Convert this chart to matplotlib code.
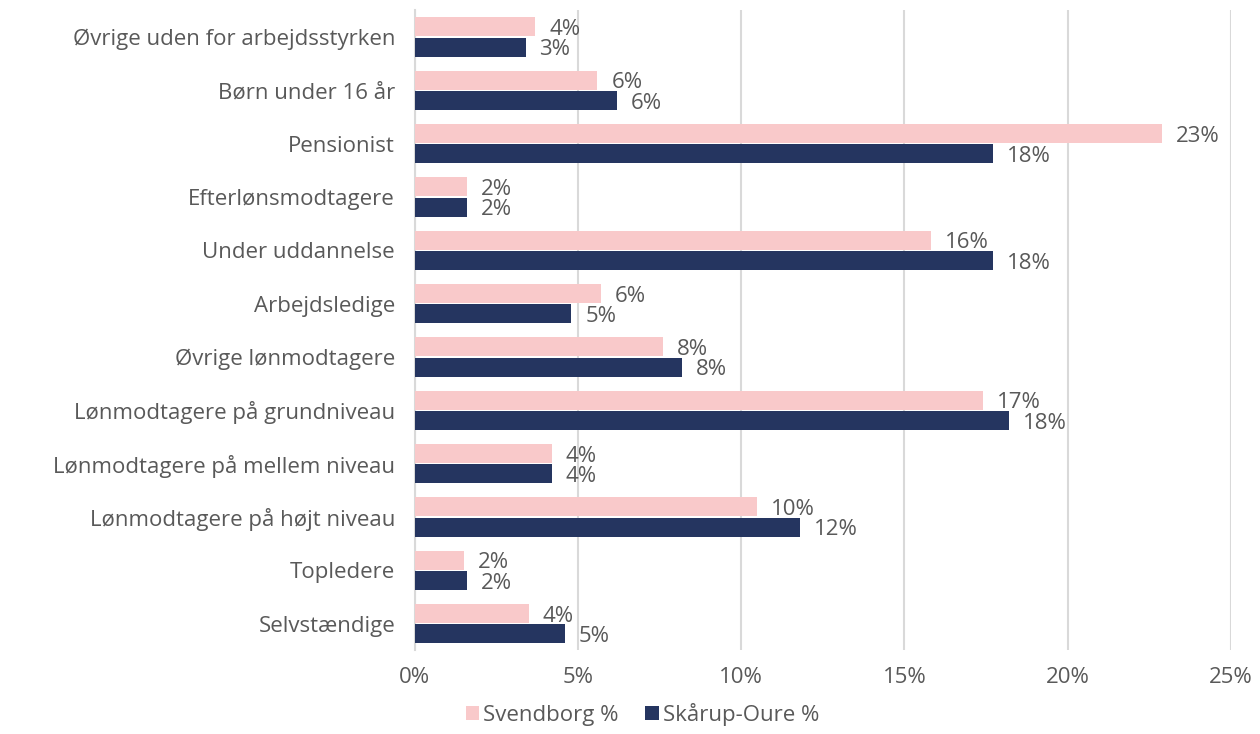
import matplotlib.pyplot as plt
import numpy as np
from matplotlib.ticker import PercentFormatter

# data (top to bottom as shown)
categories = [
    "Øvrige uden for arbejdsstyrken", "Børn under 16 år", "Pensionist",
    "Efterlønsmodtagere", "Under uddannelse", "Arbejdsledige",
    "Øvrige lønmodtagere", "Lønmodtagere på grundniveau",
    "Lønmodtagere på mellem niveau", "Lønmodtagere på højt niveau",
    "Topledere", "Selvstændige",
]
svendborg = [3.7, 5.6, 22.9, 1.6, 15.8, 5.7, 7.6, 17.4, 4.2, 10.5, 1.5, 3.5]
skaarup = [3.4, 6.2, 17.7, 1.6, 17.7, 4.8, 8.2, 18.2, 4.2, 11.8, 1.6, 4.6]
series_names = ["Svendborg %", "Skårup-Oure %"]

PINK = "#F9C9CA"
NAVY = "#253560"
TXT = "#595959"

plt.rcParams['font.family'] = ['Open Sans', 'DejaVu Sans']
FS = 16

fig = plt.figure(figsize=(12.6, 7.34), dpi=100)
ax = fig.add_axes([0.329, 0.114, 0.648, 0.872])

n = len(categories)
y = np.arange(n)[::-1]
h = 0.355
off = 0.19

b1 = ax.barh(y + off, svendborg, height=h, color=PINK, label=series_names[0], zorder=3)
b2 = ax.barh(y - off, skaarup, height=h, color=NAVY, label=series_names[1], zorder=3)

for bars, vals in ((b1, svendborg), (b2, skaarup)):
    for rect, v in zip(bars, vals):
        ax.annotate(f"{v:.0f}%", (rect.get_width(), rect.get_y() + rect.get_height() / 2),
                    xytext=(10, -2), textcoords="offset points", ha="left", va="center",
                    fontsize=FS, color=TXT)

ax.set_xlim(0, 25)
ax.set_ylim(-0.5, n - 0.5)
ax.set_xticks(np.arange(0, 26, 5))
ax.xaxis.set_major_formatter(PercentFormatter(decimals=0))
ax.set_yticks(y)
ax.set_yticklabels(categories)
ax.tick_params(axis="both", length=0, labelsize=FS, labelcolor=TXT)
ax.tick_params(axis="x", pad=12)
ax.tick_params(axis="y", pad=14)
ax.grid(axis="x", color="#D9D9D9", linewidth=1.5, zorder=0)
for s in ("top", "right", "bottom"):
    ax.spines[s].set_visible(False)
ax.spines["left"].set_color("#D9D9D9")
ax.spines["left"].set_linewidth(1.5)

fig.legend(handles=[b1, b2], loc="lower center", bbox_to_anchor=(0.51, -0.016), ncol=2,
           frameon=False, fontsize=FS, labelcolor=TXT, handlelength=0.6, handleheight=0.6,
           handletextpad=0.2, columnspacing=1.2)

fig.savefig("out.png", dpi=100)
